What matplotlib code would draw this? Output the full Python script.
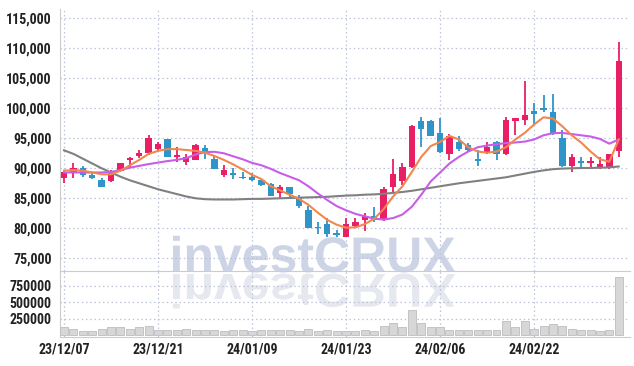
"""Daily candlestick chart with moving averages and volume (Dec 2023 - Mar 2024)."""

import matplotlib.pyplot as plt
import numpy as np
from matplotlib.font_manager import FontProperties
from matplotlib.patches import PathPatch
from matplotlib.textpath import TextPath
from matplotlib.transforms import Affine2D

RED = "#e91f66"
BLUE = "#2f95c9"
ORANGE = "#f0874e"
VIOLET = "#c95de8"
GRAY = "#808080"
GRID = "#bcc4da"
TICK_FONT = ["Roboto Condensed", "DejaVu Sans"]

# Data
# ----
tick_pos = [0, 10, 20, 30, 40, 50]
tick_labels = ["23/12/07", "23/12/21", "24/01/09", "24/01/23", "24/02/06", "24/02/22"]

open_ = [88400, 89300, 90100, 88900, 88100, 87800, 89500, 91400, 92100, 92500,
         93200, 94800, 91900, 91100, 91400, 93300, 91600, 88900, 89100, 88600,
         88600, 88100, 87300, 85900, 86800, 85200, 83100, 80200, 80700, 79200,
         78600, 80300, 81300, 82100, 81400, 86900, 87900, 90200, 97900, 97800,
         95900, 92400, 94400, 93900, 91600, 92600, 94400, 92400, 97900, 98100,
         99600, 100100, 99400, 95100, 90400, 91100, 90900, 90200, 90200, 92800]
high = [89700, 90800, 90400, 89200, 88300, 89700, 90900, 91800, 93100, 95600,
        94400, 94900, 93600, 92400, 94000, 93900, 92200, 90600, 90000, 89400,
        89200, 88100, 87600, 87200, 86900, 85600, 83700, 81100, 81700, 79700,
        81700, 81700, 82500, 83500, 86900, 91500, 90900, 97200, 98600, 98100,
        98300, 95700, 95300, 94200, 93100, 94400, 94600, 98600, 98300, 104600,
        100800, 102200, 102300, 96300, 92400, 91800, 91800, 91800, 92400, 111000]
low = [87500, 88400, 88600, 88200, 86800, 87700, 89300, 90100, 91700, 92200,
       92900, 91900, 91000, 90600, 91300, 91500, 89800, 88600, 88200, 88200,
       87800, 87100, 85300, 84800, 85000, 83400, 80000, 79000, 78600, 78500,
       78600, 80000, 79600, 81100, 81200, 86100, 87200, 90000, 93600, 95300,
       92500, 91400, 92800, 92900, 90400, 92400, 91400, 92200, 95600, 97200,
       97400, 99300, 95600, 90200, 89400, 89800, 90200, 89800, 89800, 91900]
close = [89300, 90100, 88800, 88300, 86900, 89500, 90800, 91700, 92500, 95000,
         94100, 91900, 92200, 91800, 93900, 92500, 89900, 89700, 88900, 88300,
         88100, 87200, 85400, 86800, 85700, 83700, 80100, 80000, 79000, 78900,
         80700, 81100, 82100, 81400, 86600, 89000, 90200, 97100, 96600, 95400,
         92700, 95400, 93200, 93100, 91200, 93500, 92400, 98100, 98300, 98800,
         99100, 99700, 95700, 90400, 91800, 90900, 91100, 90700, 92400, 107900]

# moving averages as drawn (short, mid, long)
ma_short = [89600, 89700, 89600, 89300, 89000, 89000, 89600, 90500, 91400, 92400,
            92900, 93200, 93200, 93050, 92900, 92600, 92050, 91400, 90650, 89800,
            88900, 88200, 87000, 86300, 85600, 84900, 83900, 82600, 81400, 80600,
            80100, 80150, 80700, 81600, 83200, 85300, 87000, 89400, 91900, 93700,
            94400, 95400, 94800, 93500, 92800, 92600, 92800, 93500, 94800, 95900,
            97300, 98500, 98300, 97000, 95500, 94300, 92800, 91500, 91100, 94800]
ma_mid = [89300, 89300, 89300, 89300, 89300, 89400, 89700, 90100, 90400, 90700,
          90950, 91200, 91400, 91700, 92300, 92700, 92750, 92500, 92000, 91500,
          90900, 90500, 89900, 89200, 88600, 88000, 87000, 85800, 84700, 83700,
          83000, 82400, 82000, 81600, 81450, 81700, 82300, 83600, 85600, 87800,
          89300, 90800, 91900, 92800, 93500, 93800, 94000, 94200, 94300, 94450,
          94800, 95500, 95850, 95900, 95700, 95500, 95300, 94900, 94100, 94800]
ma_long = [93000, 92400, 91600, 90800, 90000, 89300, 88600, 88000, 87500, 87000,
           86500, 86100, 85700, 85300, 85000, 84850, 84800, 84800, 84800, 84850,
           84900, 84900, 84950, 85000, 85050, 85100, 85150, 85200, 85250, 85350,
           85450, 85500, 85600, 85650, 85750, 85900, 86050, 86250, 86500, 86750,
           87000, 87250, 87500, 87700, 87900, 88100, 88300, 88500, 88800, 89100,
           89400, 89650, 89850, 89950, 90000, 90050, 90050, 90100, 90150, 90300]

volume = [116000, 97000, 69000, 69000, 97000, 116000, 116000, 97000, 116000, 140000,
          78000, 83000, 83000, 97000, 83000, 73000, 73000, 64000, 73000, 73000,
          64000, 73000, 83000, 73000, 73000, 64000, 97000, 64000, 83000, 64000,
          59000, 59000, 83000, 64000, 140000, 188000, 116000, 380000, 188000, 116000,
          116000, 83000, 83000, 73000, 83000, 73000, 73000, 217000, 116000, 217000,
          97000, 131000, 174000, 140000, 97000, 83000, 83000, 59000, 73000, 880000]

x = np.arange(len(close))
o, h, l, c = map(np.asarray, (open_, high, low, close))
colors = np.where(c >= o, RED, BLUE)

fig = plt.figure(figsize=(6.34, 3.66), dpi=100, facecolor="white")
ax = fig.add_axes([60 / 634, 1 - 271 / 366, 570 / 634, 262 / 366])
axv = fig.add_axes([60 / 634, 1 - 337 / 366, 570 / 634, 66 / 366], sharex=ax)

# Watermark with its reflection
# -----------------------------
tp = TextPath((0, 0), "investCRUX", size=50,
              prop=FontProperties(family="Liberation Sans", weight="bold"))
x0 = 173 - tp.get_extents().x0
base = 366 - 272
fig.add_artist(PathPatch(tp, transform=Affine2D().translate(x0, base),
                         facecolor="#cdd4e6", edgecolor="none", zorder=-1))
fig.add_artist(PathPatch(tp, transform=Affine2D().scale(1, -0.95).translate(x0, base - 2),
                         facecolor="#e6e8f0", edgecolor="none", zorder=-1))

# Price panel
# -----------
ax.set_facecolor("none")
ax.vlines(x, l, h, colors=colors, linewidth=1.3, zorder=3)
body_bottom = np.minimum(o, c)
body_height = np.maximum(np.abs(c - o), 250)
ax.bar(x, body_height, bottom=body_bottom, width=0.68, color=colors, zorder=4)

ax.plot(x, ma_long, color=GRAY, linewidth=1.5, zorder=5)
ax.plot(x, ma_mid, color=VIOLET, linewidth=1.5, zorder=5)
ax.plot(x, ma_short, color=ORANGE, linewidth=1.5, zorder=5)

ax.set_xlim(-0.43, 60.2)
ax.set_ylim(72880, 116550)
ax.set_yticks(range(75000, 115001, 5000))
ax.set_yticklabels([f"{v:,}" for v in range(75000, 115001, 5000)])
ax.set_xticks(tick_pos)
ax.tick_params(axis="x", labelbottom=False, length=0)
ax.tick_params(axis="y", length=0, pad=6, labelsize=10, labelcolor="#222222")
ax.grid(True, color=GRID, linestyle=(0, (1.2, 2.2)), linewidth=0.9)
ax.set_axisbelow(True)
for side in ("top", "right"):
    ax.spines[side].set_visible(False)
ax.spines["left"].set_color("#cccccc")
ax.spines["bottom"].set_color("#cccccc")

# Volume panel
# ------------
axv.set_facecolor("none")
axv.bar(x, volume, width=0.85, color="#d7d7d7", edgecolor="#bdbdbd",
        linewidth=0.6, zorder=3)
axv.set_ylim(-30000, 978000)
axv.set_yticks([250000, 500000, 750000])
axv.set_yticklabels(["250000", "500000", "750000"])
axv.set_xticks(tick_pos)
axv.set_xticklabels(tick_labels)
axv.tick_params(length=0, labelsize=10, labelcolor="#222222")
axv.tick_params(axis="y", pad=6)
axv.tick_params(axis="x", pad=4)
axv.grid(True, color=GRID, linestyle=(0, (1.2, 2.2)), linewidth=0.9)
axv.set_axisbelow(True)
for side in ("top", "right"):
    axv.spines[side].set_visible(False)
axv.spines["left"].set_color("#cccccc")
axv.spines["bottom"].set_color("#cccccc")

for a in (ax, axv):
    for lab in a.get_xticklabels() + a.get_yticklabels():
        lab.set_family(TICK_FONT)
        lab.set_fontstretch("condensed")
        lab.set_fontweight("bold")

fig.savefig("out.png", dpi=100)
